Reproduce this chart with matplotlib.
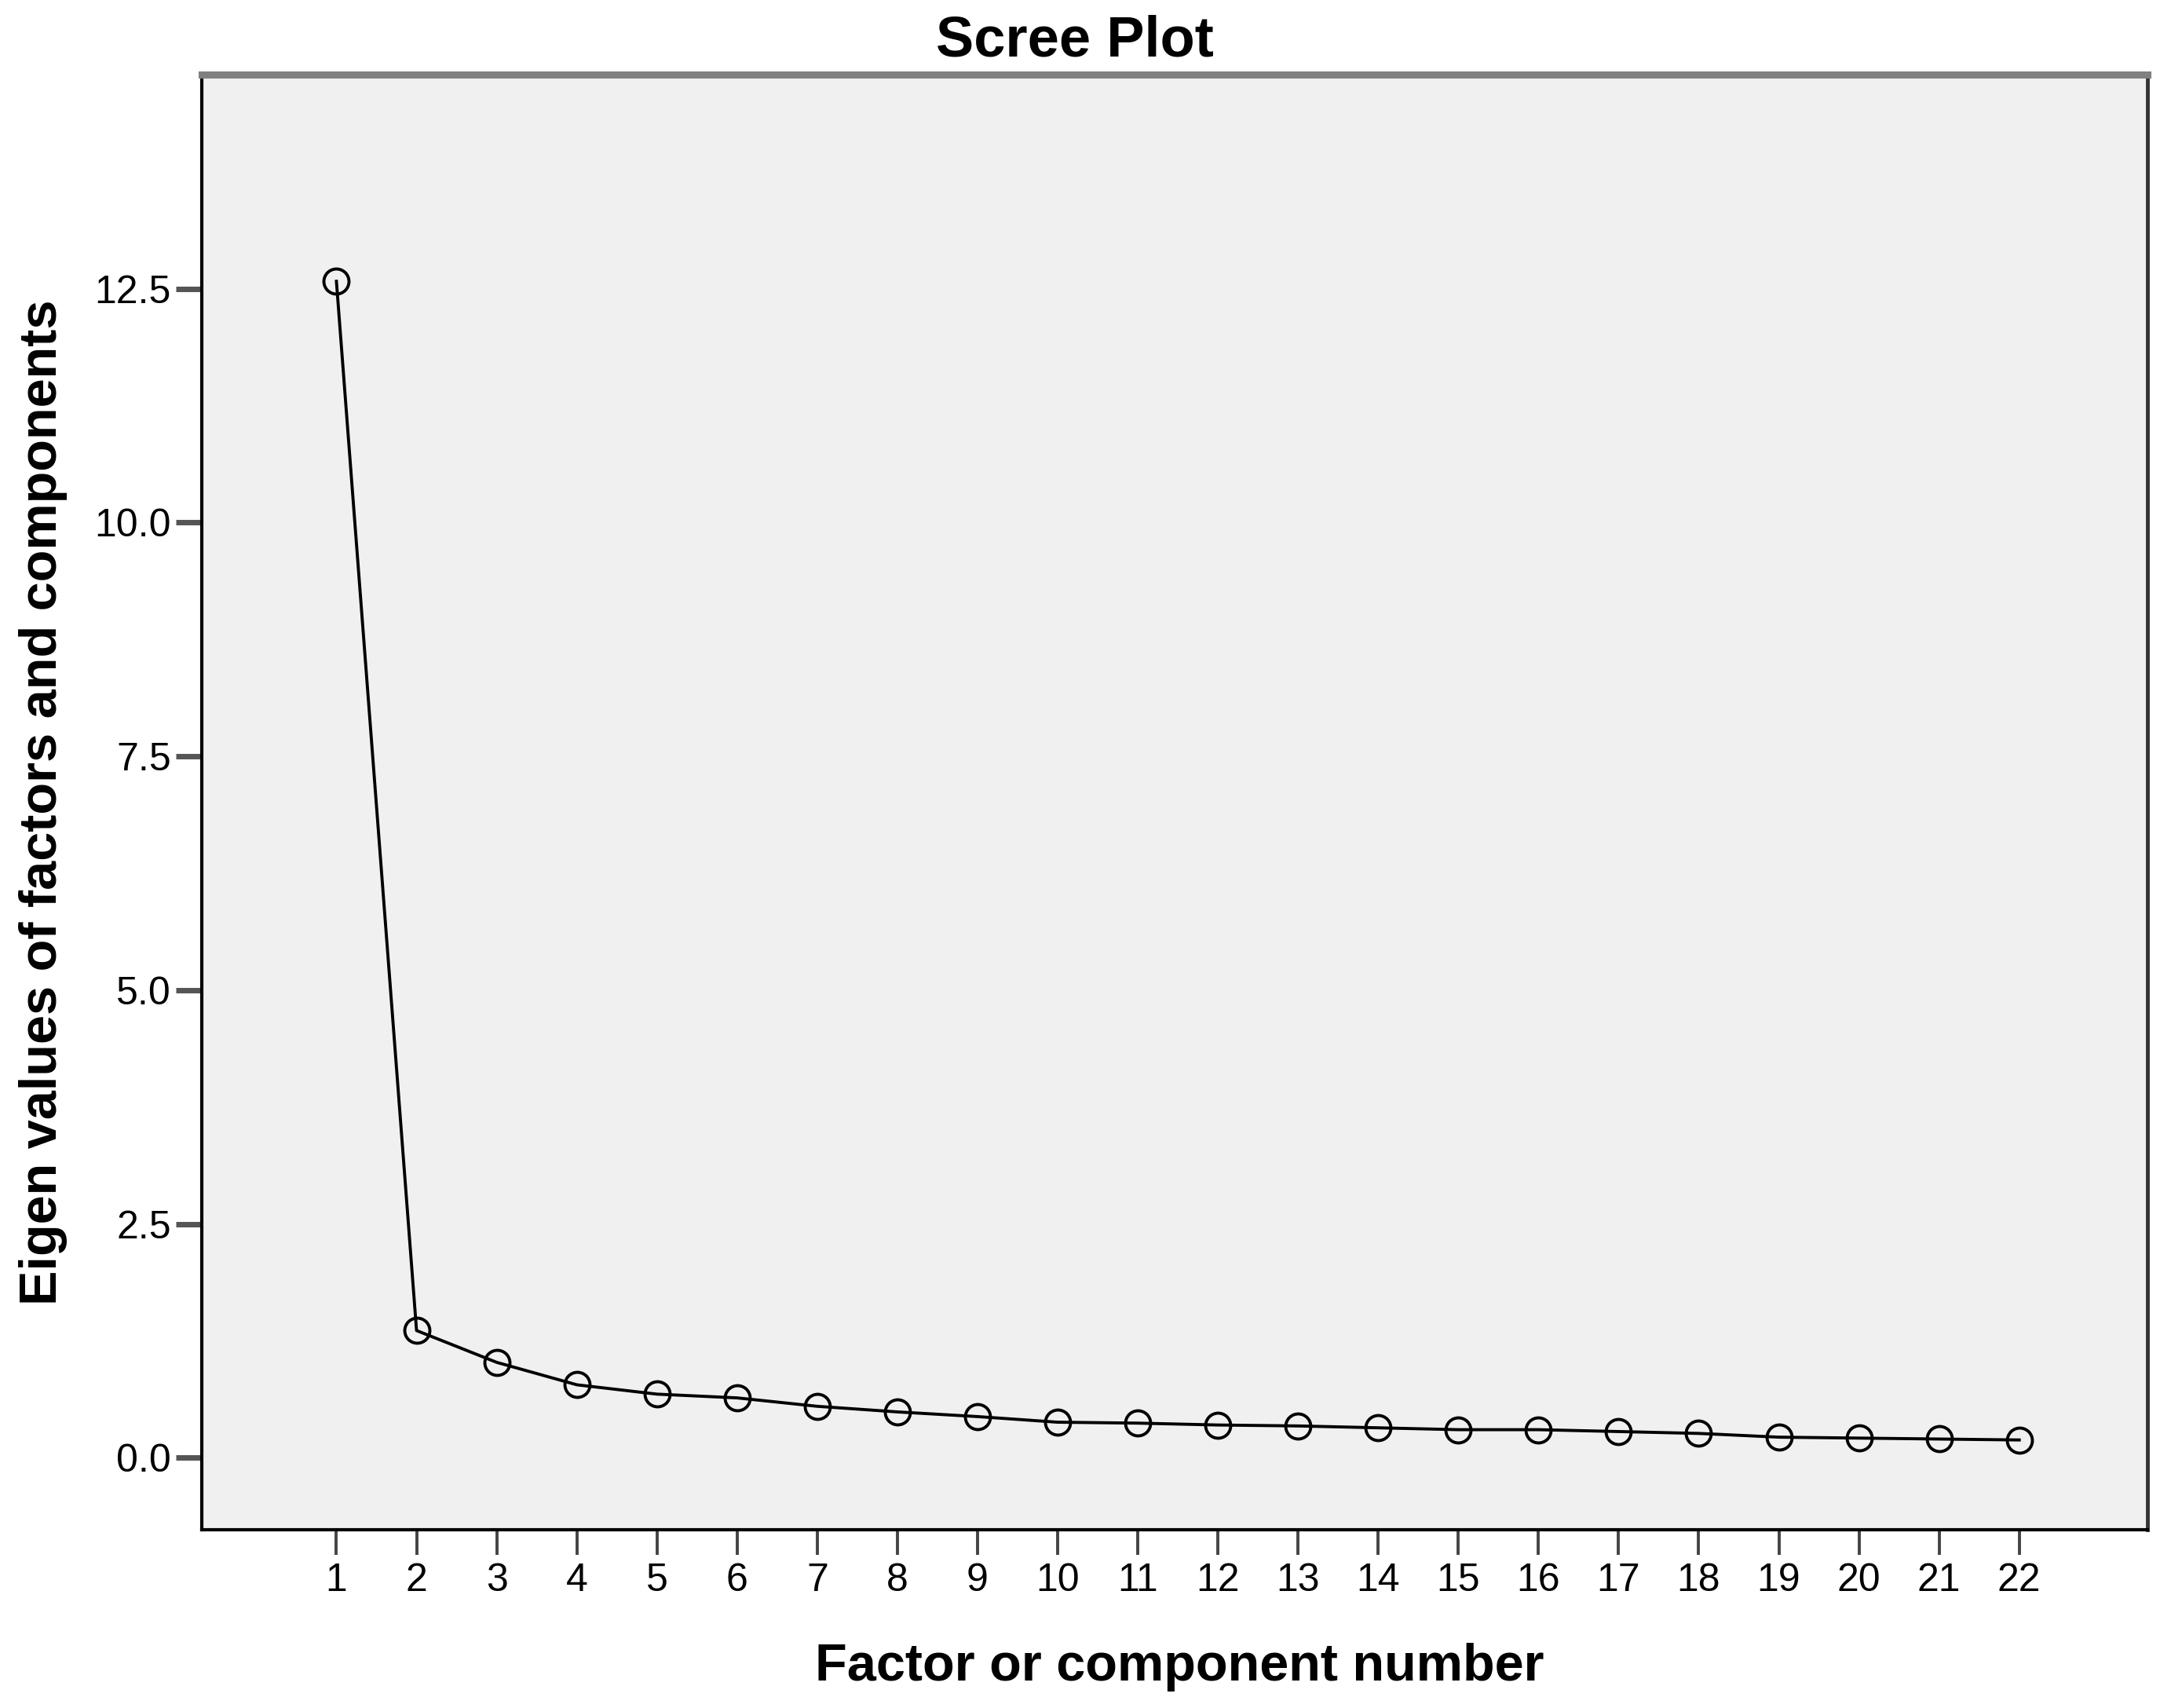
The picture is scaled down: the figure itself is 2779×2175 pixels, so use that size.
import matplotlib
matplotlib.use("Agg")
import matplotlib.pyplot as plt

components = list(range(1, 23))
eigenvalues = [12.58, 1.36, 1.02, 0.78, 0.68, 0.64, 0.55, 0.49, 0.44, 0.38, 0.37,
               0.35, 0.34, 0.32, 0.30, 0.30, 0.28, 0.26, 0.22, 0.21, 0.20, 0.19]
yticks = [0.0, 2.5, 5.0, 7.5, 10.0, 12.5]
ytick_labels = ["0.0", "2.5", "5.0", "7.5", "10.0", "12.5"]
title = "Scree Plot"
xlabel = "Factor or component number"
ylabel = "Eigen values of factors and components"

plt.rcParams['font.family'] = ['Liberation Sans', 'DejaVu Sans']

W, H = 2779, 2175
fig = plt.figure(figsize=(W / 100, H / 100), dpi=100)
fig.patch.set_facecolor("white")
ax = fig.add_axes([257 / W, 1 - 1948 / H, (2735 - 257) / W, (1948 - 95) / H])
ax.set_facecolor("#F0F0F0")

ax.plot(components, eigenvalues, color="black", lw=2.8,
        marker="o", ms=23, mfc="none", mec="black", mew=2.8, zorder=3)

ax.set_xlim(-0.68, 23.60)
ax.set_ylim(-0.77, 14.79)
ax.set_xticks(components)
ax.set_xticklabels([str(c) for c in components])
ax.set_yticks(yticks)
ax.set_yticklabels(ytick_labels)

ax.tick_params(axis="x", length=23, width=2.8, color="#444444", pad=7,
               labelsize=36, labelcolor="black")
ax.tick_params(axis="y", length=24, width=5, color="#555555", pad=4,
               labelsize=36, labelcolor="black")

for side in ["left", "bottom"]:
    ax.spines[side].set_color("black")
    ax.spines[side].set_linewidth(3)
ax.spines["top"].set_color("#808080")
ax.spines["top"].set_linewidth(6.5)
ax.spines["right"].set_color("#333333")
ax.spines["right"].set_linewidth(3.5)

fig.text(1369 / W, 1 - 72 / H, title, ha="center", va="baseline",
         fontsize=52, fontweight="bold")
fig.text(1502 / W, 1 - 2140 / H, xlabel, ha="center", va="baseline",
         fontsize=48, fontweight="bold")
fig.text(72 / W, 1 - 1022 / H, ylabel, ha="center", va="baseline",
         rotation=90, rotation_mode="anchor", fontsize=48, fontweight="bold")

fig.savefig("out.png", dpi=100, facecolor="white")
